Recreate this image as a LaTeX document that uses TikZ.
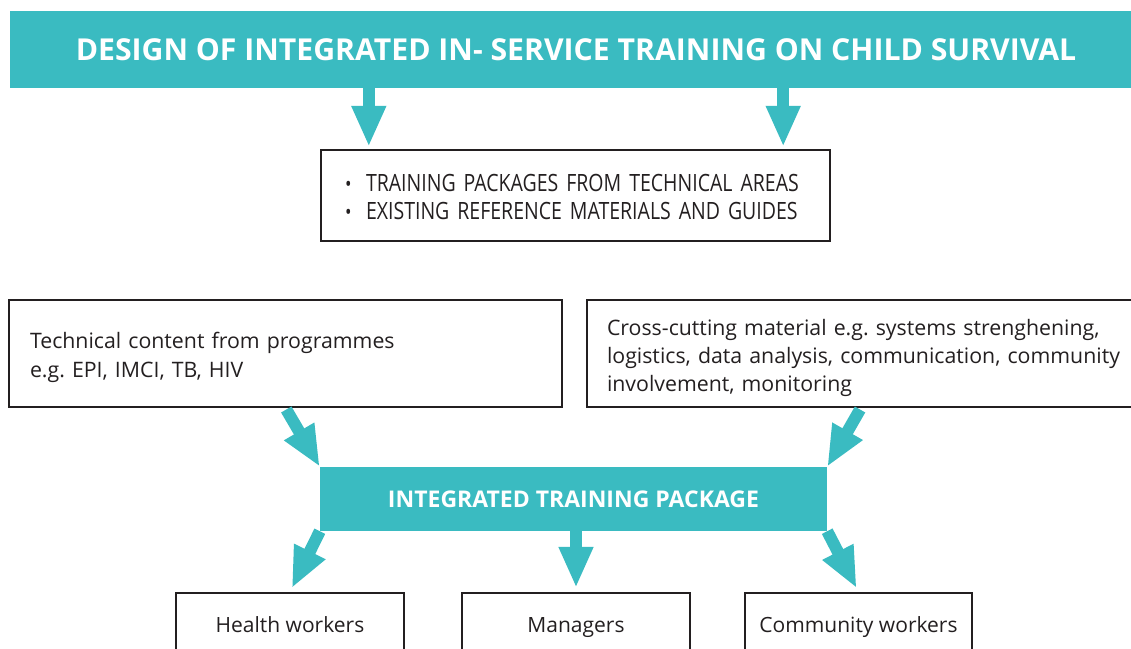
\documentclass[tikz,border=0pt]{standalone}
\usepackage{fontspec}
\setmainfont{Open Sans}
\newfontfamily\narrowfont[FakeStretch=0.82]{Open Sans}
\usepackage{tikz}
\usetikzlibrary{arrows.meta}
\definecolor{tealbar}{HTML}{3ABBC1}
\definecolor{boxline}{HTML}{231F20}
\newcommand\bul{\makebox[21pt][l]{\fontsize{21}{21}\selectfont\textbullet}}
\newcommand\lift[1]{\rule{0pt}{#1}}
\frenchspacing
\begin{document}
\begin{tikzpicture}[x=1pt,y=-1pt,
  bar/.style={fill=tealbar,text=white,font=\bfseries,inner sep=0pt},
  box/.style={draw=boxline,line width=2.4pt,text=boxline,align=left},
  group/.style={box,align=center,minimum width=228pt,minimum height=64pt,text height=19pt,text depth=5pt,font=\fontsize{21}{24}\selectfont},
  fat/.style={tealbar,line width=12pt,-{Triangle[length=41pt,width=32pt]}}]
\useasboundingbox (0,0) rectangle (1131,648);
%Title
\node[bar,minimum width=1132pt,minimum height=77pt,font=\fontsize{30.2}{36}\bfseries] (title) at (576,49.5)
  {DESIGN OF INTEGRATED IN- SERVICE TRAINING ON CHILD SURVIVAL};
%Sources
\node[box,minimum width=509pt,minimum height=91pt,text width=461pt,inner xsep=24pt,font=\fontsize{23.8}{28}\narrowfont] (pkgs) at (575.5,195.5)
  {\lift{21pt}\bul TRAINING PACKAGES FROM TECHNICAL AREAS\\ \bul EXISTING REFERENCE MATERIALS AND GUIDES};
\node[box,minimum height=107pt,text width=511pt,inner xsep=21pt,font=\fontsize{21.3}{29}\selectfont] (tech) at (285.5,353.5)
  {\lift{24.5pt}Technical content from programmes\\ e.g. EPI, IMCI, TB, HIV};
\node[box,minimum height=107pt,text width=530pt,inner xsep=20pt,font=\fontsize{21.3}{28}\selectfont] (xcut) at (872,353.5)
  {\lift{24.5pt}Cross-cutting material e.g. systems strenghening,\\ logistics, data analysis, communication, community\\ involvement, monitoring};
%Package
\node[bar,minimum width=507pt,minimum height=64pt,font=\fontsize{23}{27}\bfseries] (itp) at (573.5,499)
  {INTEGRATED TRAINING PACKAGE};
%Target groups
\node[group] (health) at (290,625) {Health workers};
\node[group] (mgr) at (576,625) {Managers};
\node[group,minimum width=227pt] (comm) at (858.5,625) {Community workers};
%Arrows
\coordinate (t1) at ([xshift=49pt]pkgs.north west);
\coordinate (t2) at ([xshift=-48pt]pkgs.north east);
\coordinate (x1) at ([xshift=275pt]xcut.south west);
\draw[fat,shorten >=2pt] (title.south -| t1) -- (t1);
\draw[fat,shorten >=2pt] (title.south -| t2) -- (t2);
\draw[fat,shorten <=1.5pt] (tech.south) -- (itp.north west);
\draw[fat,shorten <=1.5pt] (x1) -- (itp.north east);
\draw[fat,shorten >=4pt] (itp.south west) -- (health.north);
\draw[fat,shorten >=4pt] (itp.south -| mgr.north) -- (mgr.north);
\draw[fat,shorten >=4pt] (itp.south east) -- (comm.north);
\end{tikzpicture}
\end{document}
